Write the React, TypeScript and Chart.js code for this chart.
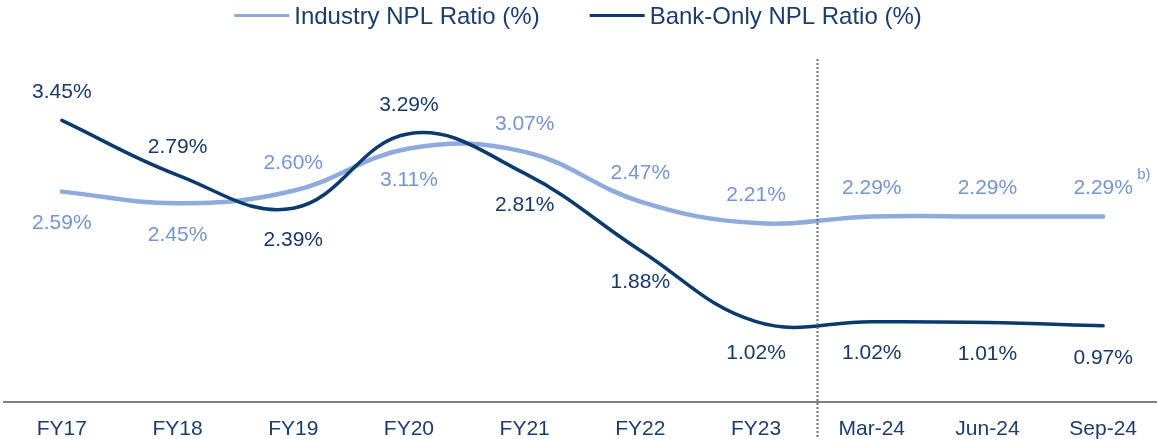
import React, { useEffect, useRef } from "react";
import { Chart, registerables } from "chart.js";

Chart.register(...registerables);

const categories = ["FY17", "FY18", "FY19", "FY20", "FY21", "FY22", "FY23", "Mar-24", "Jun-24", "Sep-24"];
const industryNpl = [2.59, 2.45, 2.6, 3.11, 3.07, 2.47, 2.21, 2.29, 2.29, 2.29];
const bankNpl = [3.45, 2.79, 2.39, 3.29, 2.81, 1.88, 1.02, 1.02, 1.01, 0.97];
const industryName = "Industry NPL Ratio (%)";
const bankName = "Bank-Only NPL Ratio (%)";
const footnoteMark = "b)";

const FONT = "'Liberation Sans', Arial, Helvetica, sans-serif";
const INDUSTRY_LINE = "#8FAADC";
const INDUSTRY_TEXT = "#7494D4";
const BANK_LINE = "#0B3A6F";
const BANK_TEXT = "#16396A";
const AXIS_TEXT = "#1A3D6E";

// label placement (style): true = above the point, false = below
const industryAbove = [false, false, true, false, true, true, true, true, true, true];
const bankAbove = [true, true, false, true, false, false, false, false, false, false];

const overlayPlugin = {
  id: "overlay",
  afterDatasetsDraw(chart: any) {
    const ctx = chart.ctx;
    const xs = chart.scales.x;
    ctx.save();
    // dotted separator between annual and quarterly data
    const sepX = Math.round(xs.getPixelForValue(6.53)) + 0.5;
    ctx.strokeStyle = "#6f6f6f";
    ctx.lineWidth = 2;
    ctx.setLineDash([2, 2]);
    ctx.beginPath();
    ctx.moveTo(sepX, 59);
    ctx.lineTo(sepX, chart.height);
    ctx.stroke();
    ctx.setLineDash([]);

    // value labels
    ctx.font = `21px ${FONT}`;
    ctx.textAlign = "center";
    ctx.textBaseline = "middle";
    chart.data.datasets.forEach((ds: any, di: number) => {
      const meta = chart.getDatasetMeta(di);
      const above = di === 0 ? industryAbove : bankAbove;
      ctx.fillStyle = di === 0 ? INDUSTRY_TEXT : BANK_TEXT;
      meta.data.forEach((pt: any, i: number) => {
        const v = ds.data[i];
        const y = above[i] ? pt.y - 28 : pt.y + 32;
        ctx.fillText(v.toFixed(2) + "%", pt.x, y);
        if (di === 0 && i === meta.data.length - 1) {
          ctx.save();
          ctx.font = `15px ${FONT}`;
          ctx.textAlign = "left";
          ctx.fillText(footnoteMark, pt.x + 34, y - 14);
          ctx.restore();
        }
      });
    });
    ctx.restore();
  },
  afterDraw(chart: any) {
    const ctx = chart.ctx;
    ctx.save();
    ctx.font = `24px ${FONT}`;
    ctx.textBaseline = "middle";
    ctx.textAlign = "left";
    const items = chart.data.datasets.map((ds: any) => ({
      text: ds.label,
      color: ds.borderColor,
      w: ctx.measureText(ds.label).width,
    }));
    const sample = 55;
    const gap = 5;
    const between = 50;
    let total = 0;
    items.forEach((it: any, i: number) => {
      total += sample + gap + it.w + (i > 0 ? between : 0);
    });
    let x = 578 - total / 2;
    const y = 16;
    items.forEach((it: any) => {
      ctx.strokeStyle = it.color;
      ctx.lineWidth = 3;
      ctx.beginPath();
      ctx.moveTo(x, y - 0.5);
      ctx.lineTo(x + sample, y - 0.5);
      ctx.stroke();
      ctx.fillStyle = AXIS_TEXT;
      ctx.fillText(it.text, x + sample + gap, y + 1);
      x += sample + gap + it.w + between;
    });
    ctx.restore();
  },
};

export default function App() {
  const canvasRef = useRef<HTMLCanvasElement | null>(null);

  useEffect(() => {
    if (!canvasRef.current) return;
    const chart = new Chart(canvasRef.current, {
      type: "line",
      data: {
        labels: categories,
        datasets: [
          {
            label: industryName,
            data: industryNpl,
            borderColor: INDUSTRY_LINE,
            backgroundColor: INDUSTRY_LINE,
            borderWidth: 4.5,
            tension: 0.4,
            pointRadius: 0,
            fill: false,
            order: 1,
            borderCapStyle: "round",
          },
          {
            label: bankName,
            data: bankNpl,
            borderColor: BANK_LINE,
            backgroundColor: BANK_LINE,
            borderWidth: 3.5,
            tension: 0.4,
            pointRadius: 0,
            fill: false,
            order: 0,
            borderCapStyle: "round",
          },
        ],
      },
      options: {
        responsive: true,
        maintainAspectRatio: false,
        animation: false,
        layout: { padding: { top: 50, left: 4, right: 0, bottom: -18 } },
        plugins: {
          legend: { display: false },
          tooltip: { enabled: false },
        },
        scales: {
          x: {
            offset: true,
            grid: { display: false, drawTicks: false, offset: true },
            border: { display: true, color: "#808080", width: 2 },
            ticks: {
              color: AXIS_TEXT,
              font: { family: FONT, size: 21, lineHeight: 1 },
              padding: 17,
              autoSkip: false,
              maxRotation: 0,
            },
          },
          y: { display: false, min: 0.05, max: 4.3 },
        },
      },
      plugins: [overlayPlugin],
    } as any);
    return () => chart.destroy();
  }, []);

  return (
    <div style={{ position: "absolute", left: 0, top: 0, width: 1157, height: 439, overflow: "hidden", background: "#fff" }}>
      <div style={{ position: "relative", width: 1161, height: 439 }}>
        <canvas ref={canvasRef} />
      </div>
    </div>
  );
}
